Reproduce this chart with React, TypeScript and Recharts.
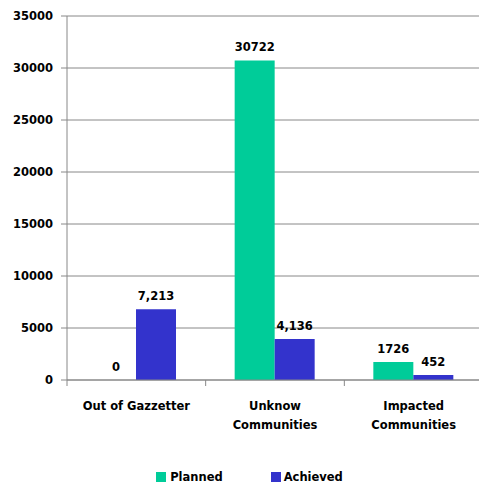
import React from "react";
import { BarChart, Bar, XAxis, YAxis, CartesianGrid, Legend, LabelList } from "recharts";

const categories = ["Out of Gazzetter", "Unknow\nCommunities", "Impacted\nCommunities"];
const plannedValues = [0, 30722, 1726];
const plannedLabels = ["0", "30722", "1726"];
const achievedValues = [6800, 3950, 480];
const achievedLabels = ["7,213", "4,136", "452"];
const yTicks = [0, 5000, 10000, 15000, 20000, 25000, 30000, 35000];

const data = categories.map((c, i) => ({
  name: c,
  planned: plannedValues[i],
  plannedLabel: plannedLabels[i],
  achieved: achievedValues[i],
  achievedLabel: achievedLabels[i],
}));

const W = 479;
const H = 487;
const LEFT = 67;
const RIGHT = -4;
const FONT = "'DejaVu Sans', Verdana, sans-serif";
const GREEN = "#00CC99";
const BLUE = "#3333CC";
const GRAY = "#888888";
const band = (W - LEFT - RIGHT) / categories.length;

const XTick = (props: any) => {
  const { x, y, payload, index } = props;
  const lines = String(payload.value).split("\n");
  return (
    <g>
      <line x1={x - band / 2} y1={y - 8} x2={x - band / 2} y2={y - 2} stroke={GRAY} />
      {index === categories.length - 1 && (
        <line x1={x + band / 2} y1={y - 8} x2={x + band / 2} y2={y - 2} stroke={GRAY} />
      )}
      <text x={x} y={y} textAnchor="middle" fontFamily={FONT} fontWeight="bold" fontSize={11.5} fill="#000">
        {lines.map((l, i) => (
          <tspan key={i} x={x} dy={i === 0 ? 22 : 19}>
            {l}
          </tspan>
        ))}
      </text>
    </g>
  );
};

const LegendContent = () => (
  <div style={{ display: "flex", justifyContent: "center", fontFamily: FONT, fontWeight: "bold", fontSize: 11.5, color: "#000" }}>
    <div style={{ display: "flex", alignItems: "center", marginRight: 48 }}>
      <span style={{ display: "inline-block", width: 10, height: 10, background: GREEN, marginRight: 4 }} />
      <span>Planned</span>
    </div>
    <div style={{ display: "flex", alignItems: "center" }}>
      <span style={{ display: "inline-block", width: 10, height: 10, background: BLUE, marginRight: 3 }} />
      <span>Achieved</span>
    </div>
  </div>
);

const labelStyle = { fontFamily: FONT, fontWeight: "bold", fontSize: 11.5, fill: "#000" };

export default function App() {
  return (
    <div style={{ position: "absolute", left: 0, top: 0, width: W, height: H, background: "#fff", overflow: "hidden" }}>
      <BarChart
        width={W}
        height={H}
        data={data}
        margin={{ top: 16, right: RIGHT, left: 0, bottom: 47 }}
        barSize={40}
        barGap={0}
      >
        <CartesianGrid horizontal vertical={false} stroke={GRAY} />
        <XAxis
          dataKey="name"
          height={40}
          axisLine={{ stroke: GRAY }}
          tickLine={false}
          tick={<XTick />}
          interval={0}
        />
        <YAxis
          width={LEFT}
          domain={[0, 35000]}
          ticks={yTicks}
          axisLine={{ stroke: GRAY }}
          tickLine={{ stroke: GRAY }}
          tickSize={6}
          tickMargin={8}
          tick={labelStyle}
        />
        <Legend
          verticalAlign="bottom"
          height={20}
          content={<LegendContent />}
          wrapperStyle={{ position: "absolute", top: 470, left: 10, width: W }}
        />
        <Bar dataKey="planned" name="Planned" fill={GREEN} minPointSize={0.01} isAnimationActive={false}>
          <LabelList dataKey="plannedLabel" position="top" offset={9} style={labelStyle} />
        </Bar>
        <Bar dataKey="achieved" name="Achieved" fill={BLUE} isAnimationActive={false}>
          <LabelList dataKey="achievedLabel" position="top" offset={9} style={labelStyle} />
        </Bar>
      </BarChart>
    </div>
  );
}
